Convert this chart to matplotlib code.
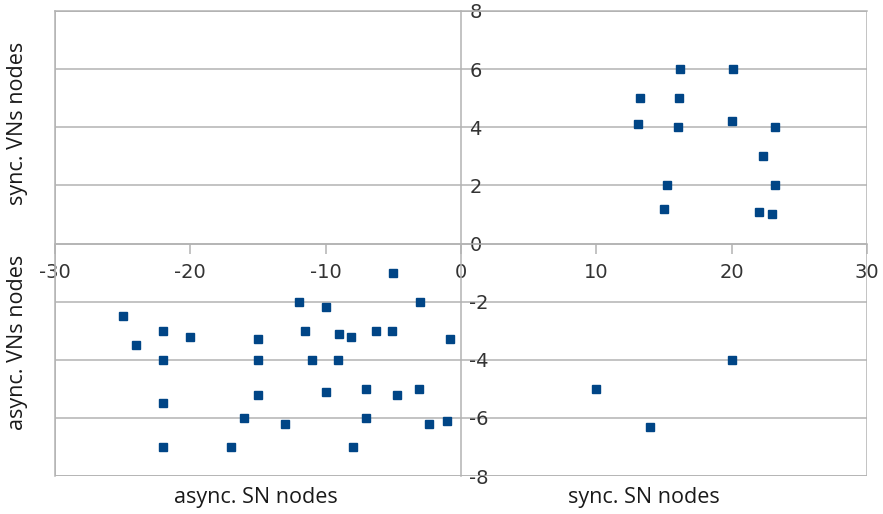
import matplotlib
matplotlib.use("Agg")
import matplotlib.pyplot as plt
from matplotlib.patches import Rectangle

# sync SN / sync VN quadrant (upper right)
q1_x = [16.2, 20.1, 13.2, 16.1, 13.1, 16.0, 20.0, 23.2, 22.3, 15.2, 23.2, 15.0, 22.0, 23.0]
q1_y = [6.0, 6.0, 5.0, 5.0, 4.1, 4.0, 4.2, 4.0, 3.0, 2.0, 2.0, 1.2, 1.1, 1.0]

# sync SN / async VN quadrant (lower right)
q4_x = [10.0, 14.0, 20.0]
q4_y = [-5.0, -6.3, -4.0]

# async SN / async VN quadrant (lower left)
q3_x = [-5.0, -25.0, -24.0, -22.0, -20.0, -22.0, -22.0, -22.0, -17.0, -16.0, -15.0,
        -15.0, -15.0, -13.0, -12.0, -11.5, -10.0, -11.0, -10.0, -9.0, -9.1, -8.1,
        -8.0, -7.0, -7.0, -6.3, -5.1, -4.7, -3.0, -3.1, -2.4, -0.8, -1.0]
q3_y = [-1.0, -2.5, -3.5, -3.0, -3.2, -4.0, -5.5, -7.0, -7.0, -6.0, -3.3,
        -4.0, -5.2, -6.2, -2.0, -3.0, -2.2, -4.0, -5.1, -3.1, -4.0, -3.2,
        -7.0, -5.0, -6.0, -3.0, -3.0, -5.2, -2.0, -5.0, -6.2, -3.3, -6.1]

x_ticks = [-30, -20, -10, 0, 10, 20, 30]
y_ticks = [-8, -6, -4, -2, 0, 2, 4, 6, 8]

title_sync_vn = "sync. VNs nodes"
title_async_vn = "async. VNs nodes"
title_async_sn = "async. SN nodes"
title_sync_sn = "sync. SN nodes"

plt.rcParams["font.family"] = ["DejaVu Sans"]
plt.rcParams["axes.unicode_minus"] = False

W, H = 883, 514
fig = plt.figure(figsize=(W / 100, H / 100), dpi=100)
ax = fig.add_axes([55 / W, (H - 476) / H, 812 / W, 465 / H])

grey = "#b3b3b3"
blue = "#004586"

all_x = q1_x + q4_x + q3_x
all_y = q1_y + q4_y + q3_y
ax.plot(all_x, all_y, linestyle="none", marker="s", markersize=5.8,
        color=blue, markeredgecolor=blue, zorder=5, clip_on=False)

ax.set_xlim(-30, 30)
ax.set_ylim(-8, 8)
ax.set_xticks(x_ticks)
ax.set_yticks(y_ticks)

# spines: left/top stay as frame, right/bottom move to the center
ax.spines["right"].set_position(("data", 0))
ax.spines["bottom"].set_position(("data", 0))
for s in ax.spines.values():
    s.set_color(grey)
    s.set_linewidth(1.1)

ax.add_patch(Rectangle((0, 0), 1, 1, transform=ax.transAxes, fill=False,
                       edgecolor=grey, linewidth=1.1, zorder=1))

ax.yaxis.tick_right()
ax.yaxis.grid(True, color=grey, linewidth=1.1)
ax.set_axisbelow(True)

ax.tick_params(axis="x", direction="out", length=7, color=grey, width=1.1,
               pad=7, labelcolor="#333333", labelsize=14)
ax.tick_params(axis="y", length=0, pad=6, labelcolor="#333333", labelsize=14)

title_kw = dict(family="Open Sans", fontsize=15.5, color="#1a1a1a")
fig.text(18 / W, 1 - 123 / H, title_sync_vn, rotation=90, ha="center", va="center", **title_kw)
fig.text(18 / W, 1 - 342 / H, title_async_vn, rotation=90, ha="center", va="center", **title_kw)
fig.text(256 / W, 1 - 498 / H, title_async_sn, ha="center", va="center", **title_kw)
fig.text(644 / W, 1 - 498 / H, title_sync_sn, ha="center", va="center", **title_kw)

fig.savefig("out.png", dpi=100)
